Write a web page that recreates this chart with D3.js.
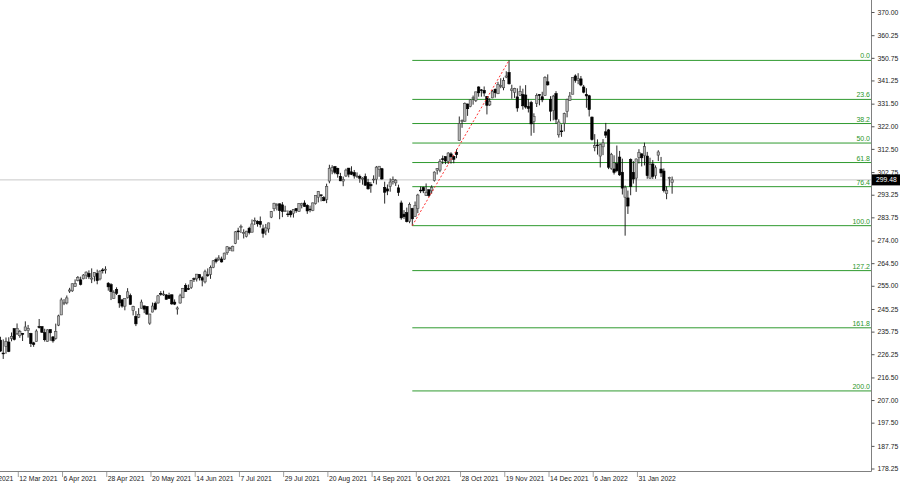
<!DOCTYPE html>
<html><head><meta charset="utf-8">
<script src="https://cdn.jsdelivr.net/npm/d3@7"></script>
<style>
html,body{margin:0;padding:0;background:#fff;}
svg{display:block;}
text{font-family:"Liberation Sans",Arial,sans-serif;}
</style></head>
<body>
<svg id="chart" width="900" height="485"></svg>
<script>
// ---- DATA (MSFT daily) ----
const dates = [
"2021-02-18","2021-02-19","2021-02-22","2021-02-23","2021-02-24","2021-02-25","2021-02-26",
"2021-03-01","2021-03-02","2021-03-03","2021-03-04","2021-03-05","2021-03-08","2021-03-09","2021-03-10","2021-03-11","2021-03-12","2021-03-15","2021-03-16","2021-03-17","2021-03-18","2021-03-19","2021-03-22","2021-03-23","2021-03-24","2021-03-25","2021-03-26","2021-03-29","2021-03-30","2021-03-31",
"2021-04-01","2021-04-05","2021-04-06","2021-04-07","2021-04-08","2021-04-09","2021-04-12","2021-04-13","2021-04-14","2021-04-15","2021-04-16","2021-04-19","2021-04-20","2021-04-21","2021-04-22","2021-04-23","2021-04-26","2021-04-27","2021-04-28","2021-04-29","2021-04-30",
"2021-05-03","2021-05-04","2021-05-05","2021-05-06","2021-05-07","2021-05-10","2021-05-11","2021-05-12","2021-05-13","2021-05-14","2021-05-17","2021-05-18","2021-05-19","2021-05-20","2021-05-21","2021-05-24","2021-05-25","2021-05-26","2021-05-27","2021-05-28",
"2021-06-01","2021-06-02","2021-06-03","2021-06-04","2021-06-07","2021-06-08","2021-06-09","2021-06-10","2021-06-11","2021-06-14","2021-06-15","2021-06-16","2021-06-17","2021-06-18","2021-06-21","2021-06-22","2021-06-23","2021-06-24","2021-06-25","2021-06-28","2021-06-29","2021-06-30",
"2021-07-01","2021-07-02","2021-07-06","2021-07-07","2021-07-08","2021-07-09","2021-07-12","2021-07-13","2021-07-14","2021-07-15","2021-07-16","2021-07-19","2021-07-20","2021-07-21","2021-07-22","2021-07-23","2021-07-26","2021-07-27","2021-07-28","2021-07-29","2021-07-30",
"2021-08-02","2021-08-03","2021-08-04","2021-08-05","2021-08-06","2021-08-09","2021-08-10","2021-08-11","2021-08-12","2021-08-13","2021-08-16","2021-08-17","2021-08-18","2021-08-19","2021-08-20","2021-08-23","2021-08-24","2021-08-25","2021-08-26","2021-08-27","2021-08-30","2021-08-31",
"2021-09-01","2021-09-02","2021-09-03","2021-09-07","2021-09-08","2021-09-09","2021-09-10","2021-09-13","2021-09-14","2021-09-15","2021-09-16","2021-09-17","2021-09-20","2021-09-21","2021-09-22","2021-09-23","2021-09-24","2021-09-27","2021-09-28","2021-09-29","2021-09-30",
"2021-10-01","2021-10-04","2021-10-05","2021-10-06","2021-10-07","2021-10-08","2021-10-11","2021-10-12","2021-10-13","2021-10-14","2021-10-15","2021-10-18","2021-10-19","2021-10-20","2021-10-21","2021-10-22","2021-10-25","2021-10-26","2021-10-27","2021-10-28","2021-10-29",
"2021-11-01","2021-11-02","2021-11-03","2021-11-04","2021-11-05","2021-11-08","2021-11-09","2021-11-10","2021-11-11","2021-11-12","2021-11-15","2021-11-16","2021-11-17","2021-11-18","2021-11-19","2021-11-22","2021-11-23","2021-11-24","2021-11-26","2021-11-29","2021-11-30",
"2021-12-01","2021-12-02","2021-12-03","2021-12-06","2021-12-07","2021-12-08","2021-12-09","2021-12-10","2021-12-13","2021-12-14","2021-12-15","2021-12-16","2021-12-17","2021-12-20","2021-12-21","2021-12-22","2021-12-23","2021-12-27","2021-12-28","2021-12-29","2021-12-30","2021-12-31",
"2022-01-03","2022-01-04","2022-01-05","2022-01-06","2022-01-07","2022-01-10","2022-01-11","2022-01-12","2022-01-13","2022-01-14","2022-01-18","2022-01-19","2022-01-20","2022-01-21","2022-01-24","2022-01-25","2022-01-26","2022-01-27","2022-01-28","2022-01-31",
"2022-02-01","2022-02-02","2022-02-03","2022-02-04","2022-02-07","2022-02-08","2022-02-09","2022-02-10","2022-02-11","2022-02-14","2022-02-15","2022-02-16"
];
const opens = [
241.80,243.75,237.42,230.33,230.01,232.08,231.53,
235.90,237.01,232.16,226.74,229.52,231.37,232.88,237.00,234.96,234.01,234.96,236.15,236.15,235.00,231.02,231.56,237.85,237.85,235.30,231.55,236.59,233.53,232.91,
238.47,242.76,247.61,247.81,252.77,252.87,254.71,257.26,257.48,257.93,259.47,260.19,257.82,258.94,260.21,257.88,261.66,261.58,256.08,255.46,249.74,
253.40,250.97,249.06,246.45,250.00,250.87,244.55,242.17,241.80,245.58,246.55,246.27,239.31,243.96,247.57,247.79,251.77,251.43,251.17,251.00,
251.23,248.13,245.22,247.76,249.98,255.16,253.81,254.29,257.99,257.90,259.67,258.39,256.65,259.63,259.82,262.72,265.99,266.16,266.23,266.19,268.87,270.69,
269.61,272.82,278.03,279.40,276.90,275.72,279.16,277.52,282.35,282.00,282.07,278.93,278.03,278.90,283.84,287.37,289.00,289.43,289.00,286.24,285.18,
286.36,285.42,287.42,286.22,288.90,289.75,288.80,287.21,286.63,289.48,292.20,293.19,292.04,291.30,298.99,303.25,305.02,304.30,300.99,298.99,301.12,304.42,
302.87,302.50,301.01,300.99,299.78,300.82,298.42,297.55,299.56,299.78,303.82,304.17,296.33,295.69,296.73,298.85,298.23,296.14,289.80,285.10,285.71,
282.12,287.40,284.05,287.42,295.18,296.22,292.92,295.34,294.91,299.21,303.57,303.57,308.35,309.25,307.17,310.40,309.36,311.00,316.00,324.33,324.13,
331.36,330.31,333.90,332.89,338.51,337.30,337.11,334.57,331.00,333.92,337.54,335.68,338.94,338.18,342.64,344.62,337.05,336.28,334.35,334.94,335.32,
335.13,330.30,331.99,323.95,331.64,335.31,334.41,334.98,340.68,333.22,328.61,335.71,318.41,320.05,323.29,328.30,332.75,335.46,343.15,341.30,341.91,338.51,
335.35,334.83,325.86,313.15,314.15,309.49,313.38,319.67,320.47,304.25,304.07,306.29,309.07,302.69,292.20,291.90,307.99,302.66,300.23,308.95,
310.41,309.63,309.49,300.21,306.17,301.25,309.87,304.04,303.19,293.77,300.01,298.37
];
const highs = [
243.93,243.86,237.93,234.83,235.20,234.59,235.37,
237.47,237.30,233.58,232.49,233.27,233.37,235.38,237.00,239.17,236.47,235.19,240.06,238.55,235.23,231.47,236.71,241.05,238.00,236.94,236.71,236.80,233.85,239.10,
242.84,249.96,249.40,250.93,254.14,255.99,257.67,259.10,258.83,259.93,261.00,261.48,262.30,260.67,261.78,261.51,262.44,263.19,256.54,256.10,253.08,
254.35,251.21,249.50,249.80,254.00,251.73,246.60,244.38,245.60,249.18,246.59,246.41,243.23,247.95,248.33,251.16,252.75,252.94,251.48,252.08,
251.29,249.27,246.34,251.65,254.09,256.01,255.53,257.46,258.49,259.95,259.89,259.03,261.75,262.30,263.52,265.79,266.83,267.85,267.25,268.90,271.65,271.36,
271.84,278.00,279.37,280.69,278.73,278.05,279.77,282.85,283.66,282.51,284.10,280.69,280.97,281.52,286.42,289.85,289.69,289.58,290.15,288.62,286.66,
286.77,287.23,287.59,289.63,289.86,290.88,289.25,288.66,289.97,292.90,294.82,293.35,292.70,297.89,305.84,305.65,305.32,304.59,302.43,300.87,304.22,304.50,
305.19,303.64,302.62,301.70,300.61,302.14,299.92,298.54,301.39,305.32,305.31,304.50,298.72,297.54,300.07,300.90,299.80,297.47,290.78,286.77,287.83,
289.98,287.75,290.40,293.63,296.64,296.64,297.97,295.44,297.19,303.05,304.45,308.21,309.70,309.30,311.09,311.09,309.59,312.40,326.10,324.86,332.00,
331.49,333.45,334.90,336.54,338.79,337.65,338.72,334.63,333.77,337.23,337.88,340.67,342.19,342.45,345.10,349.67,339.45,338.16,337.93,339.03,337.78,
339.28,333.49,332.70,327.45,335.80,335.50,336.49,343.00,343.79,334.64,335.19,336.76,324.92,322.80,327.73,333.61,336.39,342.48,343.81,344.30,343.13,339.36,
338.00,335.20,326.07,318.70,316.50,314.72,316.61,323.41,320.88,310.82,309.80,313.91,311.65,308.40,297.11,294.99,308.50,307.34,308.48,312.38,
310.63,315.12,311.23,308.80,307.84,305.56,311.93,309.12,304.29,296.76,300.80,300.87
];
const lows = [
240.86,240.18,232.40,228.73,229.00,227.88,229.54,
233.15,233.45,227.26,224.26,226.46,227.13,231.67,232.04,234.31,233.15,231.81,235.94,233.23,229.28,229.36,231.55,237.07,235.32,231.57,231.55,231.88,231.10,232.39,
238.05,242.70,246.88,247.19,252.00,252.44,254.62,256.85,255.16,257.73,257.83,257.82,256.13,256.84,255.64,257.27,260.17,260.12,252.95,249.00,249.60,
251.12,245.76,245.82,244.70,249.64,247.12,242.57,238.07,241.42,245.49,243.52,242.90,238.60,243.86,244.74,247.51,250.82,250.75,249.25,249.56,
246.96,246.89,242.90,247.51,249.81,252.51,253.21,253.67,256.61,256.80,257.21,254.77,256.01,258.75,257.92,262.40,264.43,265.47,264.76,265.91,267.98,269.60,
269.60,272.50,274.30,277.15,274.87,275.32,276.58,277.39,280.55,279.83,279.46,275.20,276.26,277.29,283.42,286.32,286.64,282.95,283.83,286.08,283.91,
283.74,283.65,285.65,286.10,287.51,288.19,285.20,285.86,286.34,289.11,290.02,290.47,290.52,289.71,298.06,301.85,301.87,300.42,298.95,296.83,300.73,300.56,
301.49,300.01,300.21,298.26,297.47,297.00,295.38,294.08,298.10,297.55,300.76,299.52,289.52,293.07,294.51,297.53,296.93,292.75,282.75,283.01,281.62,
281.29,280.25,284.05,285.51,293.92,293.92,292.75,292.29,293.69,298.77,301.74,302.69,306.11,306.11,306.14,306.32,306.46,308.60,316.00,321.36,323.90,
326.37,330.00,331.08,332.18,334.42,334.44,334.53,326.98,330.51,333.79,334.03,335.51,338.00,337.12,342.20,339.55,333.56,333.91,328.12,334.74,328.99,
329.39,327.80,318.03,319.23,330.10,330.80,332.12,334.79,339.08,324.11,324.50,323.02,317.25,317.57,319.80,325.75,332.73,335.43,340.32,339.68,338.82,335.85,
329.78,326.12,315.98,311.49,310.09,304.69,309.89,317.08,304.00,303.75,301.74,302.70,301.14,293.34,276.05,285.17,293.03,297.93,294.45,306.37,
305.13,305.56,299.96,299.97,299.90,299.95,307.39,300.70,294.22,291.35,297.02,293.68
];
const closes = [
243.79,240.97,234.51,233.27,234.55,228.99,232.38,
236.94,233.87,227.56,226.73,231.60,227.39,233.78,232.42,237.13,235.75,234.81,237.71,237.04,230.72,230.35,235.99,237.58,235.46,232.34,236.48,235.24,231.85,235.77,
242.35,249.07,247.86,249.90,253.25,255.85,255.91,258.49,255.59,259.50,260.74,258.74,258.26,260.58,257.17,261.15,261.55,261.97,254.56,252.51,252.18,
251.86,247.79,246.47,249.73,252.46,247.18,246.23,239.00,243.03,248.15,245.18,243.08,243.12,246.48,245.17,250.78,251.72,251.49,249.31,249.68,
247.40,247.30,245.71,250.79,253.81,252.57,253.59,257.24,257.89,259.89,258.36,257.38,260.90,259.43,262.63,265.51,265.27,266.69,265.02,268.72,271.40,270.90,
271.60,277.65,277.66,279.93,277.42,277.94,277.32,280.98,282.51,281.03,280.75,277.01,279.32,281.40,286.14,289.67,289.05,286.54,286.22,286.50,284.91,
284.82,287.12,286.51,289.52,289.46,288.33,286.44,286.95,289.81,292.85,294.60,293.08,290.73,296.77,304.36,304.65,302.62,302.01,299.09,299.72,303.59,301.88,
301.83,301.15,301.14,300.18,300.21,297.25,295.71,296.99,299.79,304.82,305.22,299.87,294.30,294.80,298.58,299.56,299.35,294.17,283.52,284.00,281.92,
289.10,283.11,288.76,293.11,294.85,294.85,294.23,292.88,296.31,302.75,304.21,307.29,308.23,307.41,310.76,309.16,308.13,310.11,323.17,324.35,331.62,
329.37,333.13,334.00,336.44,336.06,336.99,335.95,330.80,332.43,336.72,336.07,339.51,339.12,341.27,343.11,339.83,337.68,337.91,329.68,336.63,330.59,
330.08,329.49,323.01,326.19,334.92,334.97,333.10,342.54,339.40,328.34,334.65,324.90,323.80,319.91,327.29,333.20,334.69,342.45,341.25,341.95,339.32,336.32,
334.75,329.01,316.38,313.88,314.04,314.27,314.98,318.27,304.80,310.20,302.65,303.33,301.60,296.03,296.37,288.49,296.71,299.84,308.26,310.98,
308.76,313.46,301.25,305.94,300.95,304.56,311.21,302.38,295.04,295.00,300.47,299.50
];
const priceTicks = [370.00,360.25,350.75,341.25,331.50,322.00,312.50,302.75,293.25,283.75,274.00,264.50,255.00,245.25,235.75,226.25,216.50,207.00,197.50,187.75,178.25];
const dateTickLabels = ["18 Feb 2021","12 Mar 2021","6 Apr 2021","28 Apr 2021","20 May 2021","14 Jun 2021","7 Jul 2021","29 Jul 2021","20 Aug 2021","14 Sep 2021","6 Oct 2021","28 Oct 2021","19 Nov 2021","14 Dec 2021","6 Jan 2022","31 Jan 2022"];
const fibLevels = [0.0, 23.6, 38.2, 50.0, 61.8, 76.4, 100.0, 127.2, 161.8, 200.0];
const fibFromDate = "2021-10-04", fibToDate = "2021-11-22";
const fibLow = 280.25, fibHigh = 349.67;
const currentPrice = 299.48;

// ---- LAYOUT ----
const W = 900, H = 485;
const plotRight = 871, plotBottom = 471;
const svg = d3.select("#chart");
const N = dates.length;
const idx = new Map(dates.map((d,i)=>[d,i]));
const step = 2.764;
const xAnchor = 412.3; // position of fib anchor bar
const i0 = idx.get(fibFromDate);
const x = d3.scaleLinear().domain([0, N-1]).range([xAnchor - i0*step, xAnchor + (N-1-i0)*step]);
const y = d3.scaleLinear().domain([178.25, 370]).range([468.5, 12]);

const data = dates.map((d,i)=>({d, i, o:opens[i], h:highs[i], l:lows[i], c:closes[i]}));

svg.append("defs").append("clipPath").attr("id","plotclip")
  .append("rect").attr("x",0).attr("y",0).attr("width",plotRight).attr("height",plotBottom);

const plot = svg.append("g").attr("clip-path","url(#plotclip)");

// current price line
plot.append("line").attr("x1",0).attr("x2",plotRight)
  .attr("y1",y(currentPrice)).attr("y2",y(currentPrice))
  .attr("stroke","#c8c8c8").attr("stroke-width",1);

// fib lines
const fibX1 = x(i0);
const fibG = plot.append("g");
fibLevels.forEach(lv=>{
  const p = fibHigh - (fibHigh-fibLow)*lv/100;
  fibG.append("line").attr("x1",fibX1).attr("x2",plotRight)
    .attr("y1",y(p)).attr("y2",y(p))
    .attr("stroke","#2f9a2f").attr("stroke-width",1);
});

// candles
const cg = plot.append("g");
data.forEach(b=>{
  const cx = x(b.i);
  cg.append("line").attr("x1",cx).attr("x2",cx).attr("y1",y(b.h)).attr("y2",y(b.l))
    .attr("stroke","#111").attr("stroke-width",0.9);
  const top = y(Math.max(b.o,b.c)), bot = y(Math.min(b.o,b.c));
  const bull = b.c >= b.o;
  cg.append("rect").attr("x",cx-1.2).attr("width",2.4)
    .attr("y",top).attr("height",Math.max(0.8, bot-top))
    .attr("fill", bull ? "#b4b4b4" : "#000")
    .attr("stroke", bull ? "#444" : "#000").attr("stroke-width",0.6);
});

// red dotted trend line
const i1 = idx.get(fibToDate);
plot.append("line").attr("x1",x(i0)).attr("y1",y(fibLow)).attr("x2",x(i1)).attr("y2",y(fibHigh))
  .attr("stroke","#ff3030").attr("stroke-width",1).attr("stroke-dasharray","2,2");

// fib labels
fibLevels.forEach(lv=>{
  const p = fibHigh - (fibHigh-fibLow)*lv/100;
  svg.append("text").attr("x",plotRight-1).attr("y",y(p)-2)
    .attr("text-anchor","end").attr("font-size","7px").attr("fill","#2a962a")
    .text(lv.toFixed(1));
});

// axes lines
svg.append("line").attr("x1",plotRight+0.5).attr("x2",plotRight+0.5).attr("y1",0).attr("y2",plotBottom+0.5)
  .attr("stroke","#808080").attr("stroke-width",1);
svg.append("line").attr("x1",0).attr("x2",plotRight+0.5).attr("y1",plotBottom+0.5).attr("y2",plotBottom+0.5)
  .attr("stroke","#808080").attr("stroke-width",1);

// right axis
const yAxis = d3.axisRight(y).tickValues(priceTicks).tickSize(3).tickPadding(3)
  .tickFormat(d3.format(".2f"));
const ya = svg.append("g").attr("transform",`translate(${plotRight+0.5},0)`).call(yAxis);
ya.select(".domain").remove();
ya.selectAll("line").attr("stroke","#555");
ya.selectAll("text").attr("font-size","6.8px").attr("fill","#222").attr("font-family","'Liberation Sans',Arial,sans-serif");

// bottom axis (date labels)
const parseL = d3.timeParse("%d %b %Y"), fmt = d3.timeFormat("%Y-%m-%d");
const xt = svg.append("g");
dateTickLabels.forEach(lbl=>{
  const i = idx.get(fmt(parseL(lbl)));
  const px = x(i);
  xt.append("line").attr("x1",px-1.5).attr("x2",px-1.5).attr("y1",plotBottom+1).attr("y2",plotBottom+6)
    .attr("stroke","#888").attr("stroke-width",0.8);
  xt.append("text").attr("x",px-0.5).attr("y",480.5).attr("font-size","6.8px").attr("fill","#222")
    .text(lbl);
});

// current price label
const pg = svg.append("g");
pg.append("rect").attr("x",plotRight+1).attr("y",y(currentPrice)-5.5).attr("width",W-plotRight-1).attr("height",11).attr("fill","#000");
pg.append("text").attr("x",plotRight+5).attr("y",y(currentPrice)+2.4).attr("font-size","6.8px").attr("fill","#fff").text(currentPrice.toFixed(2));
</script>
</body></html>
